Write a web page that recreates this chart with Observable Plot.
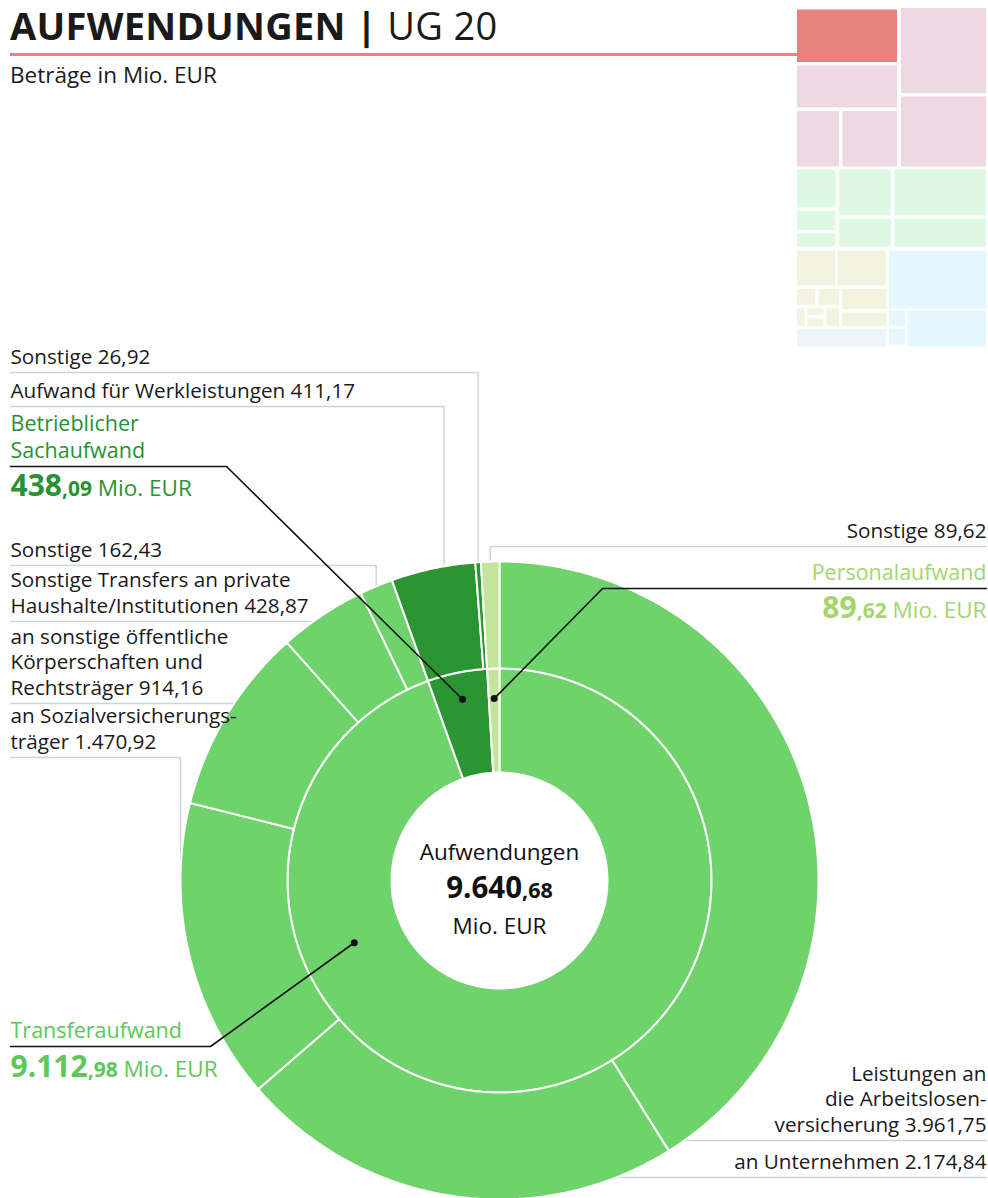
<!DOCTYPE html>
<html>
<head>
<meta charset="utf-8">
<script src="https://cdn.jsdelivr.net/npm/d3@7"></script>
<script src="https://cdn.jsdelivr.net/npm/@observablehq/plot@0.6"></script>
<style>
  body { margin: 0; background: #fff; font-family: "Open Sans", sans-serif; color: #1a1a1a; }
  #wrap { position: relative; width: 988px; height: 1198px; overflow: hidden; }
  #title { position: absolute; left: 10px; top: 6px; font-size: 38px; line-height: 38px; white-space: nowrap; letter-spacing: 0.3px; }
  #title b { font-weight: 700; }
  #rule { position: absolute; left: 10px; top: 53px; width: 788px; height: 3px; background: #e8827f; }
  #subtitle { position: absolute; left: 10px; top: 63px; font-size: 22.5px; line-height: 23px; }
  #thumb { position: absolute; left: 797px; top: 8px; }
  #chart { position: absolute; left: 0; top: 330px; }
</style>
</head>
<body>
<div id="wrap">
  <div id="title"><b>AUFWENDUNGEN |</b> UG 20</div>
  <div id="rule"></div>
  <div id="subtitle">Beträge in Mio. EUR</div>
  <div id="thumb"></div>
  <div id="chart"></div>
</div>
<script>
// ---------------- DATA ----------------
const groupNames = ["Transferaufwand", "Betrieblicher\nSachaufwand", "Personalaufwand"];
const groupValues = [9112.98, 438.09, 89.62];
const totalValue = 9640.68;
const centerLabel = "Aufwendungen";
const unitLabel = "Mio. EUR";

const itemNames = [
  "Leistungen an\ndie Arbeitslosen-\nversicherung",
  "an Unternehmen",
  "an Sozialversicherungs-\nträger",
  "an sonstige öffentliche\nKörperschaften und\nRechtsträger",
  "Sonstige Transfers an private\nHaushalte/Institutionen",
  "Sonstige",
  "Aufwand für Werkleistungen",
  "Sonstige",
  "Sonstige"
];
const itemGroup = [0, 0, 0, 0, 0, 0, 1, 1, 2];
const itemValues = [3961.75, 2174.84, 1470.92, 914.16, 428.87, 162.43, 411.17, 26.92, 89.62];

// overview thumbnail (navigation treemap) cells, in thumbnail units
const thumbX1 = [0, 104, 0, 104, 0, 45.5, 0, 0, 0, 42, 42, 97.5, 97.5, 0, 40.5, 0, 21.5, 45, 0, 10.5, 10.5, 29.5, 45, 0, 92, 92, 92, 110.5];
const thumbX2 = [100, 189, 100, 189, 42, 100, 38.5, 38.5, 38.5, 94, 94, 189, 189, 38, 89, 18, 42, 89.5, 7.5, 26.5, 26.5, 42, 89.5, 89, 189, 108, 108, 189];
const thumbY1 = [1.5, 0, 57.5, 88.5, 103, 103, 161.5, 202.5, 225.5, 161.5, 210.5, 161.5, 210.5, 242.5, 242.5, 281, 281, 281, 300.5, 300.5, 310.5, 300.5, 304.5, 321, 242.5, 302.5, 320.5, 302.5];
const thumbY2 = [54, 85, 99.5, 158.5, 158.5, 158.5, 199.5, 222, 238.5, 207.5, 238.5, 207.5, 238.5, 277.5, 277.5, 297, 297, 301, 318, 307, 318, 318, 318, 338.5, 300.5, 318, 336.5, 338.5];
const thumbCat = [0, 1, 1, 1, 1, 1, 2, 2, 2, 2, 2, 2, 2, 3, 3, 3, 3, 3, 3, 3, 3, 3, 3, 5, 4, 4, 4, 4];

// ---------------- STYLE / LAYOUT ----------------
const thumbColors = ["#e8827e", "#eed8e1", "#ddf9e4", "#f2f4e0", "#e5f7fd", "#eef5f8"];
const groupFill = ["#6fd36b", "#2b9533", "#c1e69a"];
const groupText = ["#5cc85a", "#2a9134", "#a3d66c"];
const leaderGray = "#c6d7db";
const textColor = "#1a1a1a";
const FONT = "'Open Sans', sans-serif";
const G = {cx: 499, cy: 880, r0: 108, r1: 212, r2: 319, top: 330, W: 988, H: 868};
const labelSize = 20.7, lineH = 1.23;

const itemLayout = [
  {x: 986, anchor: "end",   line: 1140, kind: "h"},
  {x: 986, anchor: "end",   line: 1177, kind: "h"},
  {x: 10,  anchor: "start", line: 757,  kind: "v", angle: 270},
  {x: 10,  anchor: "start", line: 703,  kind: "h"},
  {x: 10,  anchor: "start", line: 621,  kind: "h"},
  {x: 10,  anchor: "start", line: 565,  kind: "v"},
  {x: 10,  anchor: "start", line: 406,  kind: "v", t: 0.63},
  {x: 10,  anchor: "start", line: 372,  kind: "v"},
  {x: 986, anchor: "end",   line: 546,  kind: "v"}
];
const groupLayout = [
  {x: 10,  anchor: "start", line: 1046, lineEnd: 210, numBase: 1076, dotAngle: 246.8, dotR: 158},
  {x: 10,  anchor: "start", line: 466,  lineEnd: 226, numBase: 495,  dotR: 185},
  {x: 986, anchor: "end",   line: 588,  lineEnd: 602, numBase: 617,  dotR: 182}
];

// ---------------- HELPERS ----------------
const deLocale = d3.formatLocale({decimal: ",", thousands: ".", grouping: [3], currency: ["", " €"]});
const fmt = deLocale.format(",.2f");
const splitNum = v => { const s = fmt(v); const k = s.indexOf(","); return [s.slice(0, k), s.slice(k)]; };
const rad = deg => deg * Math.PI / 180;
const polar = (a, r) => ({x: G.cx + r * Math.sin(a), y: G.cy - r * Math.cos(a)});

const sumAll = d3.sum(itemValues);
const toAngle = v => v / sumAll * 2 * Math.PI;

let acc = 0;
const itemArcs = itemValues.map((v, i) => { const a0 = toAngle(acc); acc += v; return {i, a0, a1: toAngle(acc)}; });
acc = 0;
const groupArcs = groupValues.map((v, g) => { const a0 = toAngle(acc); acc += v; return {g, a0, a1: toAngle(acc)}; });

function arcPoly(id, a0, a1, r0, r1, fill) {
  const pts = [];
  const n = Math.max(2, Math.ceil((a1 - a0) / (Math.PI / 360)));
  for (let k = 0; k <= n; k++) { const p = polar(a0 + (a1 - a0) * k / n, r1); pts.push({id, fill, ...p}); }
  for (let k = n; k >= 0; k--) { const p = polar(a0 + (a1 - a0) * k / n, r0); pts.push({id, fill, ...p}); }
  return pts;
}

const slicePts = [];
groupArcs.forEach(d => slicePts.push(...arcPoly("g" + d.g, d.a0, d.a1, G.r0, G.r1, groupFill[d.g])));
itemArcs.forEach(d => slicePts.push(...arcPoly("i" + d.i, d.a0, d.a1, G.r1, G.r2, groupFill[itemGroup[d.i]])));

const itemTexts = [];
const grayLeaders = [];
itemArcs.forEach(d => {
  const lay = itemLayout[d.i];
  itemTexts.push({x: lay.x, y: lay.line - 9, anchor: lay.anchor, text: itemNames[d.i] + " " + fmt(itemValues[d.i])});
  const id = "L" + d.i;
  if (lay.kind === "v") {
    const a = lay.angle != null ? rad(lay.angle) : d.a0 + (d.a1 - d.a0) * (lay.t ?? 0.5);
    const p = polar(a, G.r2);
    grayLeaders.push({id, x: lay.x, y: lay.line}, {id, x: p.x, y: lay.line}, {id, x: p.x, y: p.y});
  } else {
    const dx = Math.sqrt(G.r2 * G.r2 - (lay.line - G.cy) ** 2);
    const xe = lay.anchor === "end" ? G.cx + dx : G.cx - dx;
    grayLeaders.push({id, x: lay.x, y: lay.line}, {id, x: xe, y: lay.line});
  }
});

const groupTexts = [];
const richTexts = [];
const blackLeaders = [];
const dots = [];
groupArcs.forEach(d => {
  const lay = groupLayout[d.g];
  groupTexts.push({x: lay.x, y: lay.line - 8.5, anchor: lay.anchor, text: groupNames[d.g], fill: groupText[d.g]});
  const [ip, dp] = splitNum(groupValues[d.g]);
  richTexts.push({x: lay.x, y: lay.numBase, anchor: lay.anchor, fill: groupText[d.g],
    segs: [{t: ip, size: 30, weight: 700}, {t: dp, size: 21, weight: 700}, {t: " " + unitLabel, size: 22.5, weight: 400}]});
  const a = lay.dotAngle != null ? rad(lay.dotAngle) : (d.a0 + d.a1) / 2;
  const p = polar(a, lay.dotR);
  dots.push(p);
  const id = "B" + d.g;
  blackLeaders.push({id, x: lay.x, y: lay.line}, {id, x: lay.lineEnd, y: lay.line}, {id, x: p.x, y: p.y});
});
const [cip, cdp] = splitNum(totalValue);
richTexts.push({x: G.cx, y: 897, anchor: "middle", fill: "#111",
  segs: [{t: cip, size: 29.5, weight: 700}, {t: cdp, size: 21.5, weight: 700}]});
const centerTexts = [
  {x: G.cx, y: 859, text: centerLabel},
  {x: G.cx, y: 933, text: unitLabel}
];

// ---------------- THUMBNAIL ----------------
const cells = thumbX1.map((_, i) => ({x1: thumbX1[i], x2: thumbX2[i], y1: thumbY1[i], y2: thumbY2[i], fill: thumbColors[thumbCat[i]]}));
const thumb = Plot.plot({
  width: 190, height: 340, margin: 0,
  x: {domain: [0, 190], range: [0, 190], axis: null},
  y: {domain: [0, 340], range: [0, 340], axis: null},
  color: {type: "identity"},
  marks: [
    Plot.rect(cells, {x1: "x1", x2: "x2", y1: "y1", y2: "y2", fill: "fill"})
  ]
});
document.getElementById("thumb").append(thumb);

// ---------------- MAIN CHART ----------------
const textMarks = (arr, opts) => ["start", "end"].map(an =>
  Plot.text(arr.filter(d => d.anchor === an), {x: "x", y: "y", text: "text", textAnchor: an, lineAnchor: "bottom", ...opts}));

const chart = Plot.plot({
  width: G.W, height: G.H, margin: 0,
  style: {fontFamily: FONT, background: "transparent"},
  x: {domain: [0, G.W], range: [0, G.W], axis: null},
  y: {domain: [G.top, G.top + G.H], range: [0, G.H], axis: null},
  color: {type: "identity"},
  marks: [
    Plot.line(grayLeaders, {x: "x", y: "y", z: "id", stroke: leaderGray, strokeWidth: 1.5, curve: "linear"}),
    Plot.line(slicePts, {x: "x", y: "y", z: "id", fill: "fill", stroke: "white", strokeWidth: 2, curve: "linear-closed"}),
    Plot.line(blackLeaders, {x: "x", y: "y", z: "id", stroke: "#111", strokeWidth: 1.6, curve: "linear"}),
    Plot.dot(dots, {x: "x", y: "y", r: 3.5, fill: "#111", stroke: "none"}),
    ...textMarks(itemTexts, {lineHeight: lineH, fontSize: labelSize, fill: textColor}),
    ...textMarks(groupTexts, {lineHeight: 1.25, fontSize: 21.5, fill: "fill"}),
    Plot.text(centerTexts, {x: "x", y: "y", text: "text", textAnchor: "middle", lineAnchor: "bottom", fontSize: 22.5, fill: "#111"}),
    Plot.text(richTexts, {x: "x", y: "y", text: d => d.segs.map(s => s.t).join(""), lineAnchor: "bottom", fontSize: 21, fill: "fill", className: "richlabel"})
  ]
});
document.getElementById("chart").append(chart);

// split rich labels into styled tspans, with their own anchor
d3.select(chart).selectAll(".richlabel text").each(function(i, k) {
  const d = richTexts[k];
  if (!d) return;
  const el = d3.select(this);
  el.attr("text-anchor", d.anchor);
  el.text(null);
  d.segs.forEach(s => el.append("tspan").attr("font-size", s.size).attr("font-weight", s.weight).text(s.t));
});
</script>
</body>
</html>
